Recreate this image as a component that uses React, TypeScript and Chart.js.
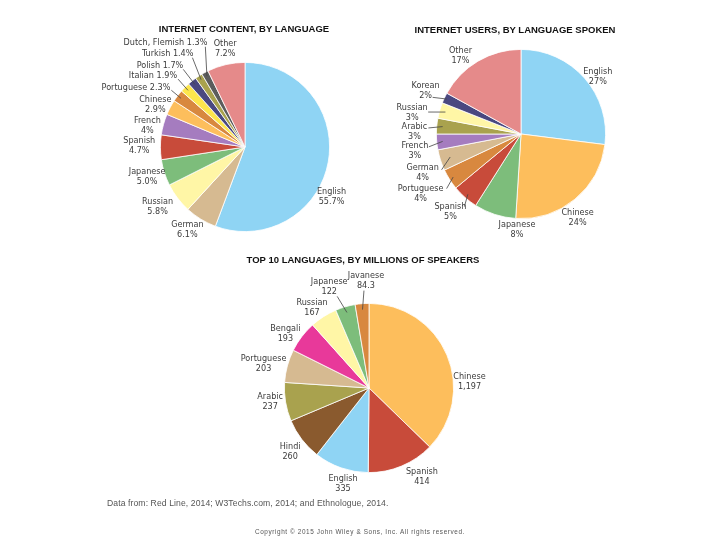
import React, { useEffect, useRef } from "react";
import { Chart, registerables } from "chart.js";

Chart.register(...registerables);

// ---------- DATA ----------
const contentLabels = ["English", "German", "Russian", "Japanese", "Spanish", "French", "Chinese", "Portuguese", "Italian", "Polish", "Turkish", "Dutch, Flemish", "Other"];
const contentValues = [55.7, 6.1, 5.8, 5.0, 4.7, 4, 2.9, 2.3, 1.9, 1.7, 1.4, 1.3, 7.2];
const contentValueText = ["55.7%", "6.1%", "5.8%", "5.0%", "4.7%", "4%", "2.9%", "2.3%", "1.9%", "1.7%", "1.4%", "1.3%", "7.2%"];

const usersLabels = ["English", "Chinese", "Japanese", "Spanish", "Portuguese", "German", "French", "Arabic", "Russian", "Korean", "Other"];
const usersValues = [27, 24, 8, 5, 4, 4, 3, 3, 3, 2, 17];

const speakersLabels = ["Chinese", "Spanish", "English", "Hindi", "Arabic", "Portuguese", "Bengali", "Russian", "Japanese", "Javanese"];
const speakersValues = [1197, 414, 335, 260, 237, 203, 193, 167, 122, 84.3];

const titles = [
  "INTERNET CONTENT, BY LANGUAGE",
  "INTERNET USERS, BY LANGUAGE SPOKEN",
  "TOP 10 LANGUAGES, BY MILLIONS OF SPEAKERS",
];
const sourceNote = "Data from: Red Line, 2014; W3Techs.com, 2014; and Ethnologue, 2014.";
const copyright = "Copyright \u00a9 2015 John Wiley & Sons, Inc. All rights reserved.";

// ---------- STYLES ----------
const C = {
  blue: "#8fd4f4",
  orange: "#fdbe5c",
  pink: "#e58a8a",
  green: "#7dbd7b",
  red: "#c84b3a",
  tan: "#d6ba91",
  lightYellow: "#fff6a6",
  purple: "#a57cbf",
  darkOrange: "#d8883f",
  yellow: "#fde64c",
  navy: "#4a4880",
  olive: "#a9a24e",
  gray: "#5c5c5c",
  brown: "#8a5a2e",
  magenta: "#e8399a",
};

const contentColors = [C.blue, C.tan, C.lightYellow, C.green, C.red, C.purple, C.orange, C.darkOrange, C.yellow, C.navy, C.olive, C.gray, C.pink];
const usersColors = [C.blue, C.orange, C.green, C.red, C.darkOrange, C.tan, C.purple, C.olive, C.lightYellow, C.navy, C.pink];
const speakersColors = [C.orange, C.red, C.blue, C.brown, C.olive, C.tan, C.magenta, C.lightYellow, C.green, C.darkOrange];

type Lay = { d: number; k: number; mode: "c" | "r"; lx?: number; ly?: number; er?: number };

// label placement: d = angle nudge from slice mid-angle (deg), k = distance in radii
const contentLayout: Lay[] = [
  { d: 19.6, k: 1.18, mode: "c" },
  { d: 3.4, k: 1.19, mode: "c" },
  { d: 2.8, k: 1.25, mode: "c" },
  { d: 0.6, k: 1.21, mode: "c" },
  { d: 0.7, k: 1.25, mode: "c" },
  { d: -3.4, k: 1.18, mode: "c" },
  { d: -2.8, k: 1.17, mode: "c" },
  { d: 1.4, k: 1.13, mode: "r", lx: 1, ly: 3, er: 0.95 },
  { d: 1.4, k: 1.16, mode: "r", lx: 1, ly: 3, er: 0.95 },
  { d: 1.6, k: 1.21, mode: "r", lx: 0, ly: 4, er: 0.95 },
  { d: 4.2, k: 1.26, mode: "r", lx: -1, ly: 4, er: 0.95 },
  { d: 8.4, k: 1.31, mode: "r", lx: -2, ly: 4, er: 0.95 },
  { d: 1.6, k: 1.19, mode: "c" },
];

const usersLayout: Lay[] = [
  { d: 4.9, k: 1.13, mode: "c" },
  { d: 5.4, k: 1.19, mode: "c" },
  { d: -15.6, k: 1.13, mode: "c" },
  { d: 0.9, k: 1.24, mode: "c", lx: 14, ly: -5, er: 0.95 },
  { d: 1.7, k: 1.38, mode: "c", lx: 26, ly: -5, er: 0.95 },
  { d: -3.5, k: 1.25, mode: "c", lx: 19, ly: -3, er: 0.88 },
  { d: -3.6, k: 1.27, mode: "c", lx: 14, ly: -4, er: 0.93 },
  { d: -4.3, k: 1.26, mode: "c", lx: 14, ly: -4, er: 0.93 },
  { d: -5.3, k: 1.31, mode: "c", lx: 16, ly: -1, er: 0.93 },
  { d: -0.6, k: 1.24, mode: "c", lx: 7, ly: 7, er: 0.97 },
  { d: -7.1, k: 1.17, mode: "c" },
];

const speakersLayout: Lay[] = [
  { d: 19.5, k: 1.19, mode: "c" },
  { d: -8.2, k: 1.22, mode: "c" },
  { d: -4.1, k: 1.17, mode: "c" },
  { d: -1.7, k: 1.2, mode: "c" },
  { d: 1.5, k: 1.18, mode: "c" },
  { d: -1.9, k: 1.28, mode: "c" },
  { d: -4.2, k: 1.18, mode: "c" },
  { d: -3, k: 1.16, mode: "c" },
  { d: -5.1, k: 1.29, mode: "c", lx: 8, ly: 10, er: 0.93 },
  { d: 3.1, k: 1.27, mode: "c", lx: -2, ly: 10, er: 0.93 },
];

const LABEL_FONT = "9px 'Liberation Sans Narrow', 'DejaVu Sans Condensed', 'Liberation Sans', sans-serif";
const LABEL_COLOR = "#3c3c3c";

const sliceLabelPlugin = {
  id: "sliceLabels",
  afterDatasetsDraw(chart: any, _args: any, opts: any) {
    const ctx: CanvasRenderingContext2D = chart.ctx;
    const meta = chart.getDatasetMeta(0);
    const names: string[] = chart.data.labels;
    const texts: string[] = opts.texts;
    const layout: Lay[] = opts.layout;
    ctx.save();
    ctx.font = LABEL_FONT;
    ctx.fillStyle = LABEL_COLOR;
    ctx.strokeStyle = "#444";
    ctx.lineWidth = 0.8;
    meta.data.forEach((arc: any, i: number) => {
      const p = arc.getProps(["x", "y", "startAngle", "endAngle", "outerRadius"], true);
      const mid = (p.startAngle + p.endAngle) / 2;
      const L = layout[i];
      const a = mid + (L.d * Math.PI) / 180;
      const ax = p.x + Math.cos(a) * p.outerRadius * L.k;
      const ay = p.y + Math.sin(a) * p.outerRadius * L.k;
      if (L.lx !== undefined) {
        const er = L.er ?? 0.93;
        const ex = p.x + Math.cos(mid) * p.outerRadius * er;
        const ey = p.y + Math.sin(mid) * p.outerRadius * er;
        ctx.beginPath();
        ctx.moveTo(ax + (L.lx ?? 0), ay + (L.ly ?? 0));
        ctx.lineTo(ex, ey);
        ctx.stroke();
      }
      ctx.textBaseline = "middle";
      if (L.mode === "r") {
        ctx.textAlign = "right";
        ctx.fillText(names[i] + " " + texts[i], ax, ay);
      } else {
        ctx.textAlign = "center";
        ctx.fillText(names[i], ax, ay - 5);
        ctx.fillText(texts[i], ax, ay + 5);
      }
    });
    ctx.restore();
  },
};

type PieProps = {
  labels: string[];
  values: number[];
  colors: string[];
  texts: string[];
  layout: Lay[];
  cx: number;
  cy: number;
  r: number;
};

function PieCanvas({ labels, values, colors, texts, layout, cx, cy, r }: PieProps) {
  const ref = useRef<HTMLCanvasElement | null>(null);
  useEffect(() => {
    if (!ref.current) return;
    const chart = new Chart(ref.current, {
      type: "pie",
      data: {
        labels,
        datasets: [
          {
            data: values,
            backgroundColor: colors,
            borderColor: "#ffffff",
            borderWidth: 0.8,
          },
        ],
      },
      options: {
        responsive: false,
        maintainAspectRatio: false,
        animation: false,
        layout: {
          padding: { left: cx - r, right: 720 - cx - r, top: cy - r, bottom: 540 - cy - r },
        },
        plugins: {
          legend: { display: false },
          tooltip: { enabled: false },
          sliceLabels: { texts, layout },
        } as any,
      },
      plugins: [sliceLabelPlugin],
    });
    return () => chart.destroy();
  }, []);
  return (
    <canvas
      ref={ref}
      width={720}
      height={540}
      style={{ position: "absolute", left: 0, top: 0, width: 720, height: 540 }}
    />
  );
}

const titleStyle: React.CSSProperties = {
  position: "absolute",
  font: "bold 9.5px 'Liberation Sans', Arial, sans-serif",
  color: "#111111",
  whiteSpace: "nowrap",
  transform: "translate(-50%, -50%)",
  lineHeight: "1",
};

export default function App() {
  const speakerTexts = speakersValues.map((v) => v.toLocaleString("en-US"));
  const userTexts = usersValues.map((v) => v + "%");
  return (
    <div style={{ position: "absolute", left: 0, top: 0, width: 720, height: 540, background: "#ffffff", overflow: "hidden" }}>
      <PieCanvas labels={contentLabels} values={contentValues} colors={contentColors} texts={contentValueText} layout={contentLayout} cx={245} cy={147} r={85} />
      <PieCanvas labels={usersLabels} values={usersValues} colors={usersColors} texts={userTexts} layout={usersLayout} cx={521} cy={134} r={85} />
      <PieCanvas labels={speakersLabels} values={speakersValues} colors={speakersColors} texts={speakerTexts} layout={speakersLayout} cx={369} cy={388} r={85} />
      <div style={{ ...titleStyle, left: 244, top: 28.5 }}>{titles[0]}</div>
      <div style={{ ...titleStyle, left: 515, top: 29.5 }}>{titles[1]}</div>
      <div style={{ ...titleStyle, left: 363, top: 260 }}>{titles[2]}</div>
      <div
        style={{
          position: "absolute",
          left: 107,
          top: 498.5,
          font: "8.6px 'Liberation Sans', Arial, sans-serif",
          letterSpacing: "0.1px",
          color: "#555",
          whiteSpace: "nowrap",
          lineHeight: "1",
        }}
      >
        {sourceNote}
      </div>
      <div
        style={{
          position: "absolute",
          left: 360,
          top: 532,
          transform: "translate(-50%, -50%)",
          font: "6.4px 'Liberation Sans', Arial, sans-serif",
          letterSpacing: "0.6px",
          color: "#555",
          whiteSpace: "nowrap",
          lineHeight: "1",
        }}
      >
        {copyright}
      </div>
    </div>
  );
}
